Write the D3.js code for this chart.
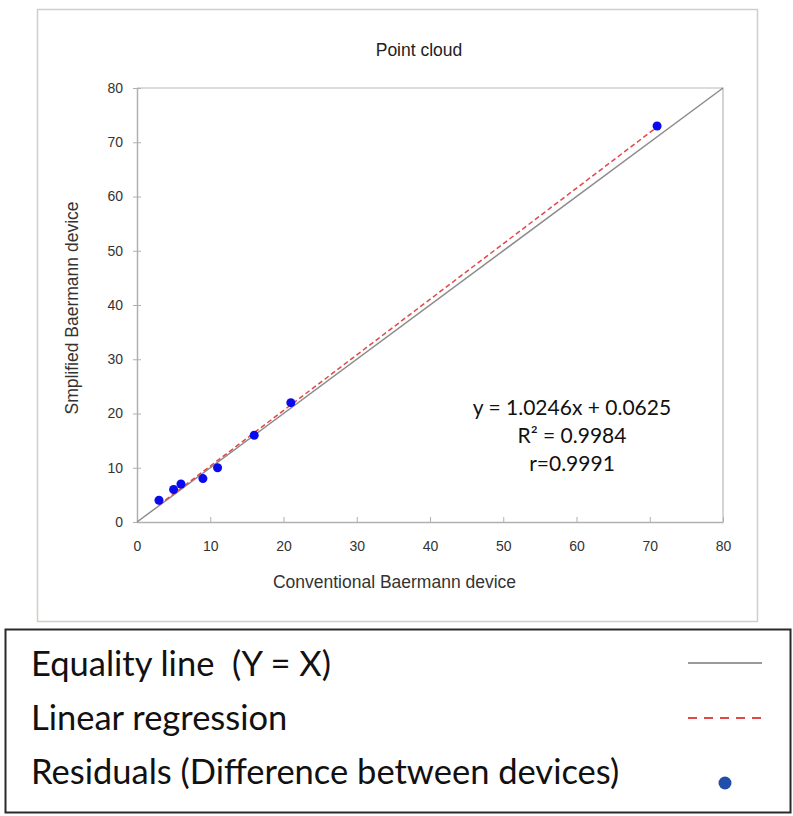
<!DOCTYPE html>
<html>
<head>
<meta charset="utf-8">
<script src="https://cdn.jsdelivr.net/npm/d3@7"></script>
<style>
  body { margin: 0; background: #fff; }
  svg { display: block; }
  text { white-space: pre; }
</style>
</head>
<body>
<div id="chart"></div>
<script>
// data
const conventional = [3, 5, 6, 9, 11, 16, 21, 71];
const simplified = [4, 6, 7, 8, 10, 16, 22, 73];
const axisTicks = [0, 10, 20, 30, 40, 50, 60, 70, 80];
const slope = 1.0246;
const intercept = 0.0625;
const equationLines = ['y = 1.0246x + 0.0625', 'R² = 0.9984', 'r=0.9991'];
const legendLabels = ['Equality line  (Y = X)', 'Linear regression', 'Residuals (Difference between devices)'];

const width = 793;
const height = 816;
const margin = {top: 88, left: 137};
const graphWidth = 586;
const graphHeight = 434;
const chartFont = 'Liberation Sans, Arial, sans-serif';
const legendFont = 'Lato, Open Sans, sans-serif';

const svg = d3.select('#chart')
    .append('svg')
    .attr('width', width)
    .attr('height', height);

// outer chart frame
svg.append('rect')
    .attr('x', 37.5).attr('y', 9.5)
    .attr('width', 720).attr('height', 612)
    .attr('fill', 'none')
    .attr('stroke', '#cfcfc6')
    .attr('stroke-width', 1.5);

svg.append('text')
    .attr('x', 419).attr('y', 56)
    .attr('text-anchor', 'middle')
    .attr('font-family', chartFont)
    .attr('font-size', 17.5)
    .attr('fill', '#222')
    .text('Point cloud');

const xScale = d3.scaleLinear().domain([0, 80]).range([0, graphWidth]);
const yScale = d3.scaleLinear().domain([0, 80]).range([graphHeight, 0]);

const graph = svg.append('g')
    .attr('transform', `translate(${margin.left}, ${margin.top})`);

// plot area border (top and right)
graph.append('path')
    .attr('d', `M0,0H${graphWidth}V${graphHeight}`)
    .attr('fill', 'none')
    .attr('stroke', '#b8b8b8')
    .attr('stroke-width', 1.2);

const xAxis = d3.axisBottom(xScale).tickValues(axisTicks).tickSizeInner(4).tickSizeOuter(0).tickPadding(15);
const yAxis = d3.axisLeft(yScale).tickValues(axisTicks).tickSizeInner(4).tickSizeOuter(0).tickPadding(10);

const gx = graph.append('g')
    .attr('transform', `translate(0, ${graphHeight})`)
    .call(xAxis);
const gy = graph.append('g').call(yAxis);

[gx, gy].forEach(g => {
    g.select('.domain').attr('stroke', '#b0b0b0').attr('stroke-width', 1.5);
    g.selectAll('.tick text')
        .attr('font-family', chartFont)
        .attr('font-size', 14)
        .attr('fill', '#333');
});
// ticks cross the axis line
gx.selectAll('.tick line').attr('stroke', '#b0b0b0').attr('y1', -5).attr('y2', 0);
gy.selectAll('.tick line').attr('stroke', '#b0b0b0').attr('x1', -4).attr('x2', 4);

graph.append('text')
    .attr('x', 394.5 - margin.left).attr('y', graphHeight + 66)
    .attr('text-anchor', 'middle')
    .attr('font-family', chartFont)
    .attr('font-size', 17.5)
    .attr('fill', '#333')
    .text('Conventional Baermann device');

graph.append('text')
    .attr('transform', `translate(-59, ${308 - margin.top}) rotate(-90)`)
    .attr('text-anchor', 'middle')
    .attr('font-family', chartFont)
    .attr('font-size', 17.5)
    .attr('fill', '#333')
    .text('Smplified Baermann device');

// equality line y = x
graph.append('line')
    .attr('x1', xScale(0)).attr('y1', yScale(0))
    .attr('x2', xScale(80)).attr('y2', yScale(80))
    .attr('stroke', '#8c8c8c')
    .attr('stroke-width', 1.5);

// regression line over the data range
const xr = d3.extent(conventional);
graph.append('line')
    .attr('x1', xScale(xr[0])).attr('y1', yScale(slope * xr[0] + intercept))
    .attr('x2', xScale(xr[1])).attr('y2', yScale(slope * xr[1] + intercept))
    .attr('stroke', '#e0484a')
    .attr('stroke-width', 1.5)
    .attr('stroke-dasharray', '5,3');

graph.selectAll('circle.pt')
    .data(conventional)
    .enter().append('circle')
    .attr('class', 'pt')
    .attr('cx', d => xScale(d))
    .attr('cy', (d, i) => yScale(simplified[i]))
    .attr('r', 4.5)
    .attr('fill', '#0a0aee');

const eq = svg.append('text')
    .attr('text-anchor', 'middle')
    .attr('font-family', legendFont)
    .attr('font-size', 21)
    .attr('fill', '#111');
equationLines.forEach((t, i) => {
    eq.append('tspan')
        .attr('x', 572)
        .attr('y', 415 + i * 28)
        .text(t);
});

// legend box
svg.append('rect')
    .attr('x', 5.5).attr('y', 629.5)
    .attr('width', 785).attr('height', 183)
    .attr('fill', '#fff')
    .attr('stroke', '#2a2a2a')
    .attr('stroke-width', 2);

const legendY = [676, 730, 784];
legendLabels.forEach((t, i) => {
    svg.append('text')
        .attr('x', 31).attr('y', legendY[i])
        .attr('font-family', legendFont)
        .attr('font-size', 34.5)
        .attr('fill', '#111')
        .text(t);
});

svg.append('line')
    .attr('x1', 688).attr('x2', 762)
    .attr('y1', 663).attr('y2', 663)
    .attr('stroke', '#9a9a9a').attr('stroke-width', 2);
svg.append('line')
    .attr('x1', 688).attr('x2', 764)
    .attr('y1', 718).attr('y2', 718)
    .attr('stroke', '#e0484a').attr('stroke-width', 2)
    .attr('stroke-dasharray', '9,7');
svg.append('circle')
    .attr('cx', 725).attr('cy', 783).attr('r', 6.5)
    .attr('fill', '#1f4fa8');
</script>
</body>
</html>
